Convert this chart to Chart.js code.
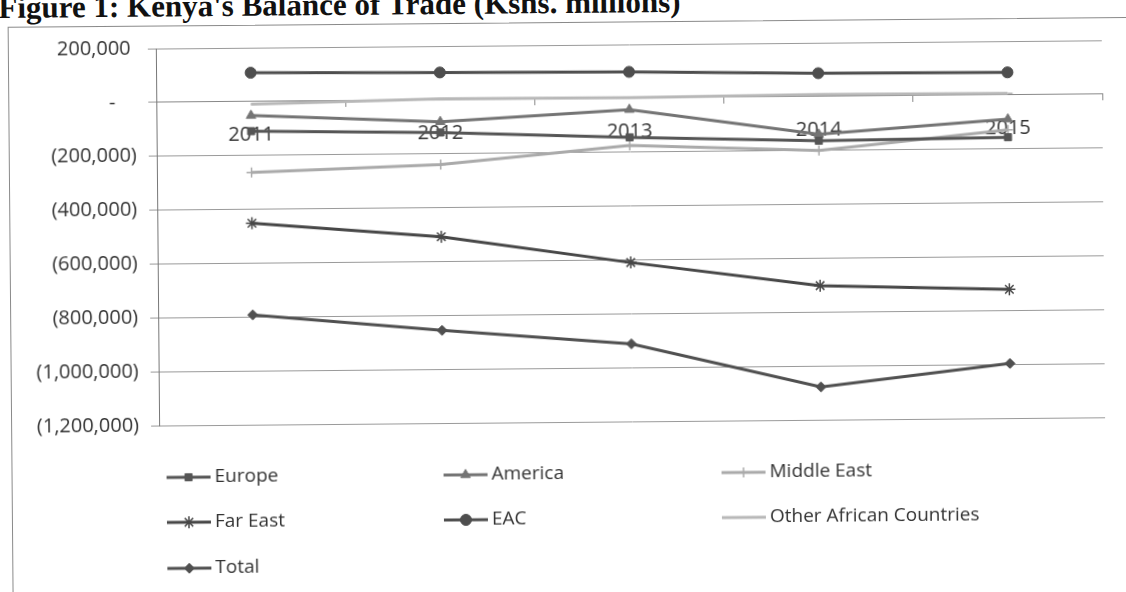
<!DOCTYPE html>
<html>
<head>
<meta charset="utf-8">
<script src="https://cdn.jsdelivr.net/npm/chart.js@4/dist/chart.umd.min.js"></script>
<style>
  html, body { margin: 0; padding: 0; background: #fff; overflow: hidden; }
  #page { position: relative; width: 1126px; height: 592px; transform: rotate(-0.5deg); transform-origin: 563px 296px; }
  #title {
    position: absolute; left: 1px; top: -13px;
    font-family: 'Liberation Serif', 'Times New Roman', serif;
    font-size: 31px; font-weight: 700; line-height: 31px;
    color: #111; white-space: nowrap;
  }
  #box { position: absolute; left: 10px; top: 22px; width: 1200px; height: 700px; border: 1px solid #8a8a8a; }
  #chart { position: absolute; left: 0; top: 0; }
</style>
</head>
<body>
<div id="page">
  <div id="title">Figure 1: Kenya's Balance of Trade (Kshs. millions)</div>
  <div id="box"></div>
  <canvas id="chart" width="1126" height="592"></canvas>
</div>
<script>
// ── Data (Kshs. millions) ──
const years = ['2011', '2012', '2013', '2014', '2015'];
const europe       = [-110000, -121000, -145000, -164000, -157000];
const america      = [-52000, -81000, -42000, -140000, -90000];
const middleEast   = [-263000, -240000, -175000, -200000, -130000];
const farEast      = [-452000, -508000, -610000, -702000, -722000];
const eac          = [107000, 102000, 98000, 87000, 84000];
const otherAfrican = [-10000, 4000, 2000, 8000, 6000];
const total        = [-792000, -856000, -912000, -1078000, -997000];

const yTicks = [200000, 0, -200000, -400000, -600000, -800000, -1000000, -1200000];

// ── Helpers ──
function acct(v) {
  if (v === 0) return '-    ';
  const s = Math.abs(v).toLocaleString('en-US');
  return v < 0 ? '(' + s + ')' : s + ' ';
}

function series(label, data, color, style, radius) {
  return {
    label,
    data,
    borderColor: color,
    backgroundColor: color,
    borderWidth: 3,
    pointStyle: style,
    pointRadius: radius,
    pointBorderWidth: style === 'star' || style === 'cross' || style === 'dash' ? 1.5 : 1,
    tension: 0,
    fill: false,
  };
}

// ── Legend in three columns, drawn below the plot ──
const gridLegend = {
  id: 'gridLegend',
  afterDraw(chart) {
    const ctx = chart.ctx;
    const cols = [165, 442, 720];
    const rows = [474, 519, 565];
    ctx.save();
    ctx.font = '19px "Open Sans"';
    ctx.textBaseline = 'middle';
    chart.data.datasets.forEach((ds, i) => {
      const x = cols[i % 3];
      const y = rows[Math.floor(i / 3)];
      ctx.strokeStyle = ds.borderColor;
      ctx.fillStyle = ds.backgroundColor;
      ctx.lineWidth = 3;
      ctx.beginPath();
      ctx.moveTo(x, y);
      ctx.lineTo(x + 44, y);
      ctx.stroke();
      ctx.lineWidth = ds.pointBorderWidth;
      Chart.helpers.drawPoint(ctx, { pointStyle: ds.pointStyle, radius: ds.pointRadius, rotation: 0, borderWidth: ds.pointBorderWidth }, x + 22, y);
      ctx.fillStyle = '#333';
      ctx.fillText(ds.label, x + 48, y);
    });
    ctx.restore();
  },
};

new Chart(document.getElementById('chart'), {
  type: 'line',
  data: {
    labels: years,
    datasets: [
      series('Europe', europe, '#555555', 'rect', 5),
      series('America', america, '#747474', 'triangle', 5.5),
      series('Middle East', middleEast, '#aaaaaa', 'cross', 5),
      series('Far East', farEast, '#474747', 'star', 6),
      series('EAC', eac, '#4e4e4e', 'circle', 5.5),
      series('Other African Countries', otherAfrican, '#b8b8b8', 'dash', 5),
      series('Total', total, '#505050', 'rectRot', 5),
    ],
  },
  options: {
    responsive: false,
    animation: false,
    layout: { padding: { left: 0, top: 45, right: 22, bottom: 170 } },
    plugins: {
      legend: { display: false },
      tooltip: { enabled: false },
    },
    scales: {
      x: {
        type: 'category',
        position: { y: 0 },
        offset: true,
        z: 1,
        grid: { offset: true, drawOnChartArea: false, drawTicks: true, tickLength: 6, color: '#888' },
        border: { display: true, color: '#888', width: 1 },
        ticks: { color: '#333', font: { family: 'Open Sans', size: 20 }, padding: 15 },
      },
      y: {
        min: -1200000,
        max: 200000,
        afterFit: scale => { scale.width = 158; },
        afterBuildTicks: scale => { scale.ticks = yTicks.map(v => ({ value: v })); },
        grid: { color: '#9a9a9a', lineWidth: 1, tickLength: 8 },
        border: { display: true, color: '#777', width: 1 },
        ticks: { color: '#333', font: { family: 'Open Sans', size: 20 }, padding: 12, callback: v => acct(v) },
      },
    },
  },
  plugins: [gridLegend],
});
</script>
</body>
</html>
